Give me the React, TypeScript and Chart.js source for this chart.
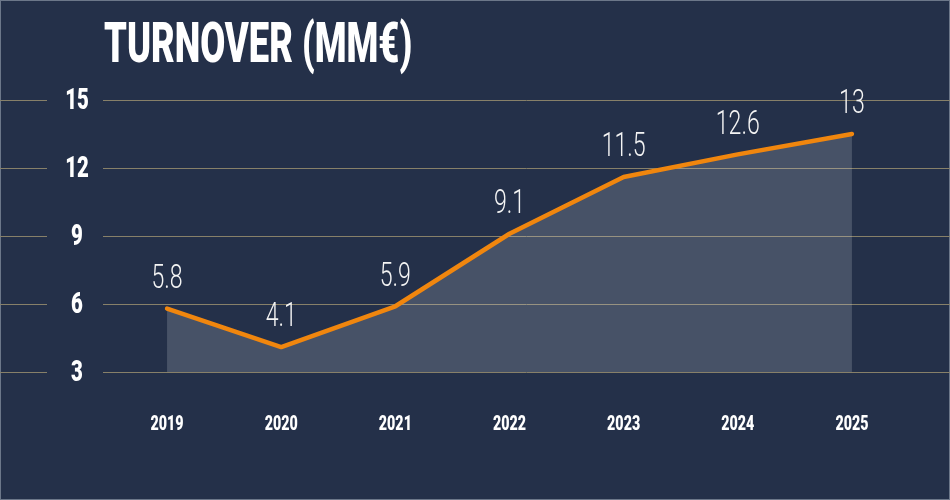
import React, { useEffect, useRef } from "react";
import { Chart, registerables } from "chart.js";

Chart.register(...registerables);

const years = ["2019", "2020", "2021", "2022", "2023", "2024", "2025"];
const turnover = [5.8, 4.1, 5.9, 9.1, 11.6, 12.6, 13.5];
const valueLabels = ["5.8", "4.1", "5.9", "9.1", "11.5", "12.6", "13"];
const yTicks = [3, 6, 9, 12, 15];
const title = "TURNOVER (MM€)";

const BG = "#243049";
const GRID = "#878069";
const ORANGE = "#f0860e";

function condensedText(
  ctx: CanvasRenderingContext2D,
  text: string,
  x: number,
  y: number,
  font: string,
  sx: number,
  align: CanvasTextAlign,
  baseline: CanvasTextBaseline,
  color: string
) {
  ctx.save();
  ctx.font = font;
  ctx.fillStyle = color;
  ctx.textAlign = align;
  ctx.textBaseline = baseline;
  ctx.translate(x, y);
  ctx.scale(sx, 1);
  ctx.fillText(text, 0, 0);
  ctx.restore();
}

const decorPlugin = {
  id: "decor",
  beforeDraw(chart: any) {
    const ctx: CanvasRenderingContext2D = chart.ctx;
    const w = chart.width;
    const h = chart.height;
    ctx.save();
    ctx.fillStyle = BG;
    ctx.fillRect(0, 0, w, h);
    ctx.strokeStyle = "rgba(140,150,165,0.7)";
    ctx.lineWidth = 1;
    ctx.strokeRect(0.5, 0.5, w - 1, h - 1);
    ctx.restore();
  },
  beforeDatasetsDraw(chart: any) {
    const ctx: CanvasRenderingContext2D = chart.ctx;
    const y = chart.scales.y;
    const w = chart.width;
    ctx.save();
    ctx.strokeStyle = GRID;
    ctx.lineWidth = 1;
    yTicks.forEach((v) => {
      const py = Math.round(y.getPixelForValue(v)) + 0.5;
      ctx.beginPath();
      ctx.moveTo(0, py);
      ctx.lineTo(47, py);
      ctx.moveTo(103, py);
      ctx.lineTo(w, py);
      ctx.stroke();
      condensedText(ctx, String(v), 77, py + 1, "900 30px Roboto", 0.68, "center", "middle", "#ffffff");
    });
    ctx.restore();
    // title
    condensedText(ctx, title, 104, 62, "900 55px Roboto", 0.66, "left", "alphabetic", "#ffffff");
    // x labels
    const x = chart.scales.x;
    years.forEach((yr, i) => {
      condensedText(ctx, yr, x.getPixelForValue(i), 425, "900 21px Roboto", 0.68, "center", "middle", "#ffffff");
    });
  },
  afterDatasetsDraw(chart: any) {
    const ctx: CanvasRenderingContext2D = chart.ctx;
    const meta = chart.getDatasetMeta(0);
    meta.data.forEach((pt: any, i: number) => {
      condensedText(ctx, valueLabels[i], pt.x, pt.y - 29, "300 33px Roboto", 0.7, "center", "middle", "#f4f4f4");
    });
  },
};

export default function App() {
  const ref = useRef<HTMLCanvasElement | null>(null);
  useEffect(() => {
    if (!ref.current) return;
    const chart = new Chart(ref.current, {
      type: "line",
      data: {
        labels: years,
        datasets: [
          {
            data: turnover,
            borderColor: ORANGE,
            borderWidth: 4.5,
            backgroundColor: "rgba(215,218,225,0.2)",
            fill: "start",
            tension: 0,
            pointRadius: 0,
            borderCapStyle: "round",
            borderJoinStyle: "round",
          },
        ],
      },
      options: {
        animation: false,
        responsive: true,
        maintainAspectRatio: false,
        layout: { padding: { left: 110, right: 41, top: 100, bottom: 128 } },
        plugins: { legend: { display: false }, tooltip: { enabled: false } },
        scales: {
          x: { display: false, offset: true },
          y: { display: false, min: 3, max: 15, ticks: { stepSize: 3 } },
        },
      },
      plugins: [decorPlugin],
    });
    return () => chart.destroy();
  }, []);
  return (
    <div style={{ position: "fixed", left: 0, top: 0, width: 950, height: 500 }}>
      <canvas ref={ref} />
    </div>
  );
}
